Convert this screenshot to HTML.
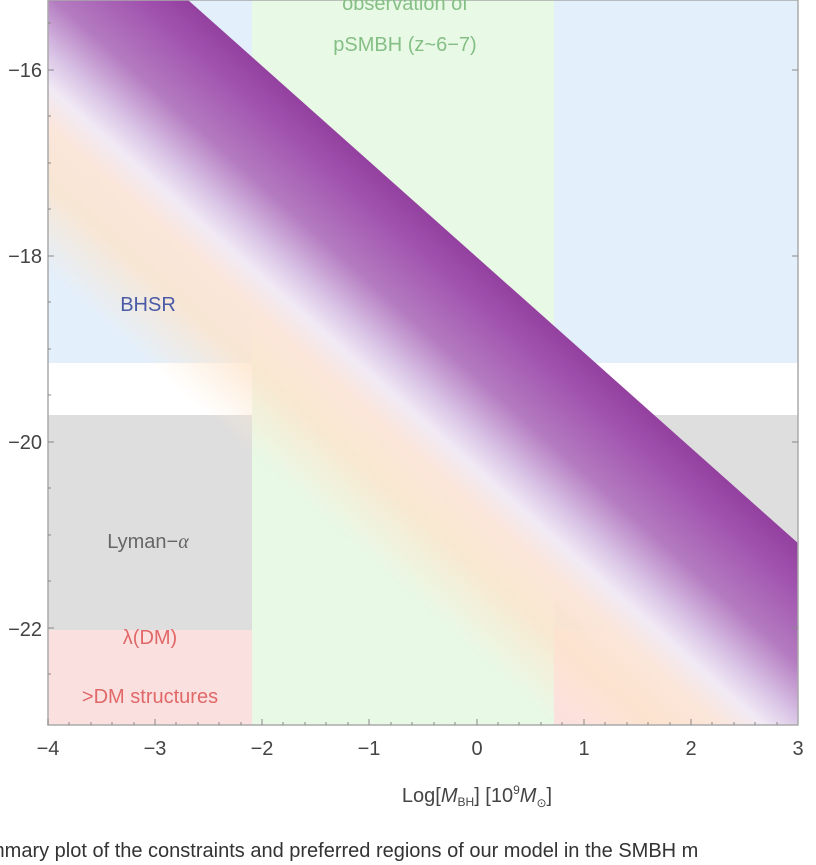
<!DOCTYPE html>
<html><head><meta charset="utf-8"><style>
html,body{margin:0;padding:0;background:#fff;width:816px;height:865px;overflow:hidden}
svg{display:block}
text{font-family:"Liberation Sans",sans-serif}
</style></head><body>
<svg width="816" height="865" viewBox="0 0 816 865" xmlns="http://www.w3.org/2000/svg">
<defs>
<linearGradient id="band" gradientUnits="userSpaceOnUse" x1="798" y1="543" x2="599" y2="766">
<stop offset="0" stop-color="#93409f"/>
<stop offset="0.10" stop-color="#9f50ad"/>
<stop offset="0.30" stop-color="#b47bc0"/>
<stop offset="0.44" stop-color="#d9c3e5"/>
<stop offset="0.53" stop-color="#f1eaf5"/>
<stop offset="0.63" stop-color="#fbe6da"/>
<stop offset="0.78" stop-color="#fde4cb" stop-opacity="0.8"/>
<stop offset="1" stop-color="#fde8d0" stop-opacity="0"/>
</linearGradient>
<clipPath id="plot"><rect x="48" y="0" width="750" height="725"/></clipPath>
</defs>
<g clip-path="url(#plot)">
<rect x="48" y="0" width="750" height="725" fill="#fff"/>
<rect x="48" y="0" width="204" height="363" fill="#e3effb"/>
<rect x="554" y="0" width="244" height="363" fill="#e3effb"/>
<rect x="48" y="415" width="204" height="215" fill="#dedede"/>
<rect x="554" y="415" width="244" height="215" fill="#dedede"/>
<rect x="48" y="630" width="204" height="95" fill="#fbe0e0"/>
<rect x="554" y="630" width="244" height="95" fill="#fbe0e0"/>
<rect x="252" y="0" width="302" height="725" fill="#e8f9e6"/>
<polygon points="188,0 1000,723 1000,1200 -300,1200 -300,0" fill="url(#band)"/>
</g>
<rect x="48" y="0" width="750" height="725" fill="none" stroke="#aaa" stroke-width="1.5"/>
<g stroke="#888" stroke-width="1">
<line x1="48" y1="70" x2="54" y2="70"/><line x1="48" y1="256" x2="54" y2="256"/><line x1="48" y1="442" x2="54" y2="442"/><line x1="48" y1="628" x2="54" y2="628"/>
<line x1="48" y1="23" x2="51" y2="23"/><line x1="48" y1="116" x2="51" y2="116"/><line x1="48" y1="163" x2="51" y2="163"/><line x1="48" y1="209" x2="51" y2="209"/><line x1="48" y1="302" x2="51" y2="302"/><line x1="48" y1="349" x2="51" y2="349"/><line x1="48" y1="395" x2="51" y2="395"/><line x1="48" y1="488" x2="51" y2="488"/><line x1="48" y1="535" x2="51" y2="535"/><line x1="48" y1="581" x2="51" y2="581"/><line x1="48" y1="674" x2="51" y2="674"/>
<line x1="798" y1="70" x2="792" y2="70"/><line x1="798" y1="256" x2="792" y2="256"/><line x1="798" y1="442" x2="792" y2="442"/><line x1="798" y1="628" x2="792" y2="628"/>
</g>
<g stroke="#888" stroke-width="1">
<line x1="48" y1="725" x2="48" y2="719"/><line x1="155" y1="725" x2="155" y2="719"/><line x1="262" y1="725" x2="262" y2="719"/><line x1="369" y1="725" x2="369" y2="719"/><line x1="477" y1="725" x2="477" y2="719"/><line x1="584" y1="725" x2="584" y2="719"/><line x1="691" y1="725" x2="691" y2="719"/>
<line x1="69" y1="725" x2="69" y2="722"/><line x1="91" y1="725" x2="91" y2="722"/><line x1="112" y1="725" x2="112" y2="722"/><line x1="134" y1="725" x2="134" y2="722"/>
<line x1="176" y1="725" x2="176" y2="722"/><line x1="198" y1="725" x2="198" y2="722"/><line x1="219" y1="725" x2="219" y2="722"/><line x1="241" y1="725" x2="241" y2="722"/>
<line x1="283" y1="725" x2="283" y2="722"/><line x1="305" y1="725" x2="305" y2="722"/><line x1="326" y1="725" x2="326" y2="722"/><line x1="348" y1="725" x2="348" y2="722"/>
<line x1="391" y1="725" x2="391" y2="722"/><line x1="412" y1="725" x2="412" y2="722"/><line x1="434" y1="725" x2="434" y2="722"/><line x1="455" y1="725" x2="455" y2="722"/>
<line x1="498" y1="725" x2="498" y2="722"/><line x1="519" y1="725" x2="519" y2="722"/><line x1="541" y1="725" x2="541" y2="722"/><line x1="562" y1="725" x2="562" y2="722"/>
<line x1="605" y1="725" x2="605" y2="722"/><line x1="627" y1="725" x2="627" y2="722"/><line x1="648" y1="725" x2="648" y2="722"/><line x1="670" y1="725" x2="670" y2="722"/>
<line x1="712" y1="725" x2="712" y2="722"/><line x1="734" y1="725" x2="734" y2="722"/><line x1="755" y1="725" x2="755" y2="722"/><line x1="777" y1="725" x2="777" y2="722"/>
</g>
<g font-size="20" fill="#444" text-anchor="end">
<text x="42" y="77">−16</text><text x="42" y="263">−18</text><text x="42" y="449">−20</text><text x="42" y="636">−22</text>
</g>
<g font-size="20" fill="#444" text-anchor="middle">
<text x="48" y="755">−4</text><text x="155" y="755">−3</text><text x="262" y="755">−2</text><text x="369" y="755">−1</text><text x="477" y="755">0</text><text x="584" y="755">1</text><text x="691" y="755">2</text><text x="798" y="755">3</text>
</g>
<text x="477" y="802" font-size="20" fill="#444" text-anchor="middle">Log[<tspan font-style="italic">M</tspan><tspan font-size="12" dy="4">BH</tspan><tspan dy="-4">] [10</tspan><tspan font-size="12" dy="-8">9</tspan><tspan font-style="italic" dy="8">M</tspan><tspan font-size="12" dy="5">⊙</tspan><tspan dy="-5">]</tspan></text>
<g font-size="20" text-anchor="middle">
<text x="405" y="10" fill="#86bf86">observation of</text>
<text x="405" y="51" fill="#86bf86">pSMBH (z~6−7)</text>
<text x="148" y="311" fill="#4a5aa6">BHSR</text>
<text x="148" y="548" fill="#666">Lyman−<tspan font-family="Liberation Serif" font-style="italic">α</tspan></text>
<text x="150" y="644" fill="#e06868">λ(DM)</text>
<text x="150" y="703" fill="#e06868">&gt;DM structures</text>
</g>
<text x="-12" y="857" font-size="20" fill="#333">mmary plot of the constraints and preferred regions of our model in the SMBH m</text>
</svg>
</body></html>
